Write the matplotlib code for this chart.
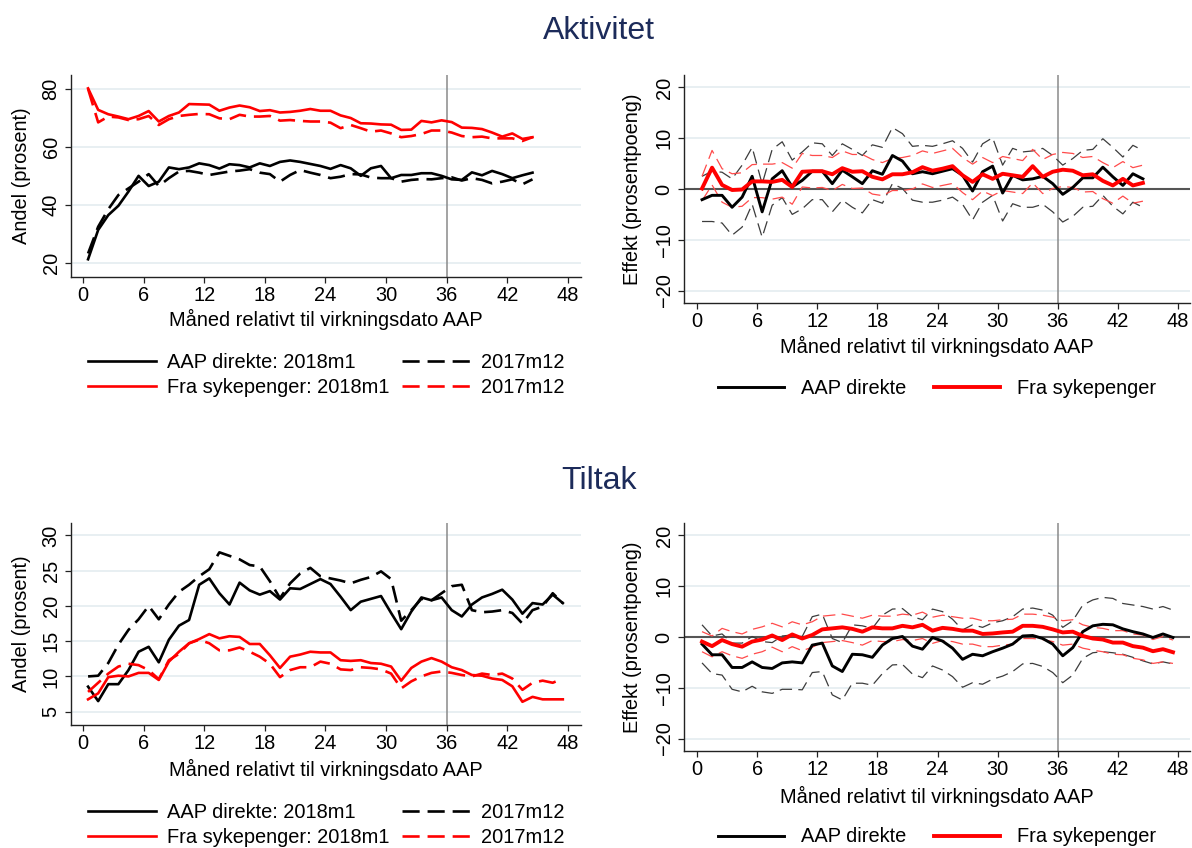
import numpy as np
import matplotlib
matplotlib.use("Agg")
import matplotlib.pyplot as plt
import matplotlib.transforms as mtransforms

plt.rcParams['font.family'] = ['Liberation Sans', 'DejaVu Sans']
plt.rcParams['lines.scale_dashes'] = True

# ---------------- data ----------------
months_a = np.arange(0.5, 45, 1.0)   # Aktivitet: months 1..45
months_t = np.arange(0.5, 48, 1.0)   # Tiltak: months 1..48

# Aktivitet, andel (prosent)
akt_aap_2018 = [21.4, 31.5, 36.6, 39.8, 44.7, 50.1, 46.6, 48.1, 53.0, 52.4,
                53.0, 54.4, 53.8, 52.6, 54.1, 53.8, 53.0, 54.4, 53.5, 54.9,
                55.4, 54.9, 54.2, 53.5, 52.5, 53.8, 52.7, 50.1, 52.7, 53.5,
                49.3, 50.4, 50.4, 51.0, 51.0, 50.1, 48.9, 48.7, 51.3, 50.3,
                51.8, 50.7, 49.3, 50.3, 51.2]
akt_aap_2017 = [23.4, 32.6, 38.6, 43.5, 45.8, 48.1, 50.7, 46.6, 49.3, 51.6,
                51.8, 51.2, 50.4, 51.0, 51.6, 51.9, 52.4, 51.2, 50.7, 48.1,
                50.4, 52.1, 51.2, 50.4, 49.3, 49.8, 50.7, 50.6, 49.5, 49.3,
                49.3, 48.1, 48.7, 49.0, 48.9, 49.3, 49.6, 48.5, 49.3, 48.7,
                47.5, 48.1, 48.9, 47.2, 48.9]
akt_syk_2018 = [80.2, 72.8, 71.3, 70.5, 69.6, 70.7, 72.4, 68.8, 70.7, 71.9,
                74.8, 74.7, 74.6, 72.5, 73.6, 74.3, 73.7, 72.4, 72.7, 71.9,
                72.1, 72.5, 73.1, 72.5, 72.5, 70.9, 70.0, 68.2, 68.1, 67.8,
                67.7, 65.9, 66.0, 69.0, 68.5, 69.2, 68.6, 66.7, 66.6, 66.2,
                65.0, 63.6, 64.7, 62.8, 63.4]
akt_syk_2017 = [80.0, 68.5, 70.5, 70.2, 69.3, 69.6, 70.7, 67.6, 69.6, 70.7,
                71.1, 71.4, 71.3, 69.9, 69.6, 71.1, 70.5, 70.5, 70.7, 69.1,
                69.3, 69.0, 68.8, 68.8, 68.4, 66.5, 67.6, 66.5, 65.3, 65.7,
                64.7, 63.4, 63.8, 64.5, 65.7, 65.7, 65.0, 63.8, 63.4, 63.6,
                63.0, 63.0, 63.0, 62.1, 63.4]

# Aktivitet, effekt (prosentpoeng) with confidence bounds
eff_akt_aap = [-2.1, -1.25, -1.25, -3.6, -1.6, 2.5, -4.5, 2.0, 3.6, 0.4,
               1.7, 3.5, 3.5, 1.05, 3.7, 2.4, 1.05, 3.6, 2.9, 6.6,
               5.5, 3.0, 3.4, 3.0, 3.5, 4.0, 2.7, -0.4, 3.4, 4.5,
               -0.8, 2.7, 1.8, 2.0, 2.5, 1.05, -1.05, 0.3, 2.2, 2.2,
               4.3, 2.4, 0.7, 3.0, 2.0]
eff_akt_aap_hi = [2.5, 3.5, 3.3, 2.0, 4.7, 8.2, 1.0, 7.8, 9.3, 5.7,
                  7.3, 9.1, 8.9, 6.6, 8.9, 7.8, 6.6, 8.7, 8.2, 12.1,
                  10.9, 8.4, 8.6, 8.4, 8.9, 9.5, 8.0, 5.3, 8.9, 10.1,
                  4.7, 8.0, 7.3, 7.5, 8.0, 6.6, 4.7, 6.0, 7.6, 7.8,
                  9.9, 8.2, 6.3, 8.6, 7.6]
eff_akt_aap_lo = [-6.4, -6.4, -6.7, -9.1, -7.5, -3.0, -9.5, -3.2, -1.7, -5.0,
                  -3.9, -2.1, -2.1, -4.5, -2.2, -3.6, -4.7, -2.1, -2.8, 1.05,
                  0.1, -2.2, -2.6, -2.6, -2.2, -1.6, -3.0, -6.1, -2.6, -1.25,
                  -6.3, -2.9, -3.6, -3.6, -3.0, -4.5, -6.5, -5.4, -3.6, -3.4,
                  -1.25, -3.4, -4.9, -2.6, -3.6]
eff_akt_syk = [0.1, 4.2, 0.8, -0.2, -0.1, 1.5, 1.5, 1.4, 1.8, 0.4,
               3.4, 3.5, 3.5, 2.9, 4.1, 3.4, 3.5, 2.4, 1.9, 2.9,
               2.9, 3.3, 4.3, 3.6, 4.0, 4.5, 2.7, 1.4, 2.9, 2.0,
               3.0, 2.7, 2.4, 4.5, 2.4, 3.4, 3.8, 3.6, 2.7, 2.9,
               1.6, 0.7, 2.0, 0.7, 1.2]
eff_akt_syk_hi = [2.5, 7.6, 4.0, 3.0, 3.2, 4.8, 4.9, 4.9, 5.2, 4.1,
                  7.0, 6.6, 6.6, 6.2, 7.5, 6.8, 6.8, 5.8, 5.2, 6.0,
                  6.2, 6.6, 7.5, 7.0, 7.5, 8.0, 6.2, 4.9, 6.2, 5.2,
                  6.4, 6.0, 5.6, 7.8, 5.8, 6.8, 7.2, 7.0, 6.2, 6.4,
                  5.2, 4.2, 5.4, 4.2, 4.7]
eff_akt_syk_lo = [-2.3, 0.8, -2.6, -3.6, -3.4, -1.7, -1.7, -2.0, -1.6, -3.0,
                  0.4, 0.2, 0.3, -0.3, 0.9, 0.1, 0.2, -1.0, -1.3, -0.3,
                  -0.3, 0.0, 1.0, 0.3, 0.7, 1.1, -0.7, -2.1, -0.4, -1.3,
                  -0.3, -0.6, -0.9, 1.2, -0.9, 0.1, 0.5, 0.3, -0.6, -0.5,
                  -1.9, -2.8, -1.4, -2.8, -2.4]

# Tiltak, andel (prosent)
tilt_aap_2018 = [8.55, 6.5, 8.9, 8.9, 10.9, 13.5, 14.2, 12.0, 15.2, 17.2,
                 18.0, 23.0, 23.9, 21.8, 20.2, 23.3, 22.2, 21.6, 22.1, 20.9,
                 22.5, 22.4, 23.1, 23.8, 23.1, 21.3, 19.4, 20.6, 21.0, 21.4,
                 19.0, 16.7, 19.2, 21.2, 20.8, 21.2, 19.4, 18.5, 20.2, 21.2,
                 21.7, 22.3, 20.9, 18.9, 20.4, 20.2, 21.6, 20.4]
tilt_aap_2017 = [10.0, 10.1, 11.9, 14.5, 16.6, 18.1, 20.0, 18.1, 20.2, 22.0,
                 23.0, 24.2, 25.2, 27.6, 27.1, 26.6, 25.8, 25.6, 23.5, 21.1,
                 23.2, 24.6, 25.4, 24.2, 23.9, 23.6, 23.2, 23.7, 24.1, 24.9,
                 23.8, 17.9, 19.4, 21.0, 20.8, 21.8, 22.8, 23.0, 19.4, 19.1,
                 19.2, 19.4, 19.0, 17.5, 19.4, 19.9, 21.8, 20.4]
tilt_syk_2018 = [6.75, 7.6, 9.9, 10.1, 10.0, 10.5, 10.5, 9.5, 12.1, 13.5,
                 14.7, 15.3, 16.0, 15.4, 15.7, 15.6, 14.6, 14.6, 13.0, 11.2,
                 12.8, 13.1, 13.5, 13.4, 13.4, 12.3, 12.2, 12.3, 11.9, 11.8,
                 11.4, 9.4, 11.2, 12.1, 12.6, 12.1, 11.3, 10.9, 10.2, 10.1,
                 9.7, 9.5, 8.6, 6.4, 7.1, 6.75, 6.75, 6.75]
tilt_syk_2017 = [7.8, 9.1, 10.4, 11.4, 11.8, 11.6, 10.9, 9.6, 12.3, 13.2,
                 14.7, 15.2, 14.7, 13.7, 13.7, 14.1, 13.5, 12.8, 11.8, 9.9,
                 10.9, 11.3, 11.3, 12.1, 11.8, 11.0, 10.9, 11.3, 11.2, 11.0,
                 10.4, 8.3, 9.3, 10.0, 10.5, 10.7, 10.5, 10.2, 10.0, 10.4,
                 10.2, 10.4, 9.7, 8.1, 9.1, 9.4, 9.1, 9.7]

# Tiltak, effekt (prosentpoeng) with confidence bounds
eff_tilt_aap = [-1.4, -3.5, -3.5, -6.0, -6.0, -4.9, -6.0, -6.2, -5.1, -4.9,
                -5.1, -1.6, -1.2, -5.7, -6.8, -3.4, -3.5, -4.0, -1.6, -0.3,
                0.1, -1.8, -2.4, -0.1, -0.8, -2.2, -4.4, -3.4, -3.7, -2.9,
                -2.2, -1.4, 0.2, 0.3, -0.3, -1.4, -3.7, -2.1, 1.05, 2.2,
                2.5, 2.4, 1.6, 1.05, 0.6, -0.1, 0.6, -0.1]
eff_tilt_aap_hi = [2.4, 0.2, 0.6, -1.2, -1.2, 0.1, -0.9, -1.1, 0.2, 0.4,
                   0.1, 4.0, 4.5, -0.3, -1.1, 2.4, 2.2, 1.7, 4.3, 5.5,
                   5.6, 4.0, 3.4, 5.5, 5.0, 3.5, 1.4, 2.4, 1.9, 2.8,
                   3.2, 4.0, 5.5, 5.7, 5.3, 4.3, 1.9, 3.2, 6.3, 7.3,
                   7.8, 7.6, 6.6, 6.3, 6.0, 5.5, 6.0, 5.3]
eff_tilt_aap_lo = [-5.1, -7.2, -7.5, -10.3, -10.8, -9.7, -10.8, -11.1, -10.3, -10.3,
                   -10.4, -7.0, -6.8, -11.4, -12.4, -9.1, -9.1, -9.5, -7.2, -5.5,
                   -5.4, -7.3, -8.0, -5.7, -6.5, -7.8, -9.9, -9.0, -9.3, -8.3,
                   -7.7, -6.8, -5.3, -5.2, -5.8, -7.0, -9.0, -7.5, -4.2, -3.1,
                   -2.9, -3.1, -3.4, -4.0, -4.7, -5.3, -4.9, -5.3]
eff_tilt_syk = [-0.9, -1.8, -0.6, -1.4, -1.9, -0.9, -0.5, 0.3, -0.6, 0.5,
                -0.3, 0.4, 1.5, 1.7, 1.9, 1.6, 1.05, 1.9, 1.7, 1.7,
                2.2, 1.9, 2.4, 1.25, 1.8, 1.6, 1.25, 1.25, 0.6, 0.7,
                0.9, 1.05, 2.2, 2.2, 2.0, 1.5, 0.9, 1.05, 0.2, -0.3,
                -0.5, -1.1, -1.1, -1.8, -2.1, -2.8, -2.4, -3.0]
eff_tilt_syk_hi = [1.05, 0.2, 1.7, 1.05, 0.6, 1.5, 2.0, 2.7, 2.0, 3.0,
                   2.4, 3.0, 4.1, 4.3, 4.5, 4.1, 3.7, 4.3, 4.1, 4.1,
                   4.5, 4.3, 4.9, 3.9, 4.3, 4.0, 3.7, 3.7, 3.2, 3.2,
                   3.4, 3.5, 4.5, 4.5, 4.3, 3.9, 3.2, 3.4, 2.4, 1.9,
                   1.7, 1.25, 1.25, 0.6, 0.4, -0.5, 0.1, -0.6]
eff_tilt_syk_lo = [-2.9, -3.9, -2.9, -3.7, -4.2, -3.4, -2.9, -2.0, -2.9, -1.9,
                   -2.7, -2.0, -1.1, -0.9, -0.7, -1.1, -1.6, -0.7, -0.9, -0.9,
                   -0.5, -0.7, -0.3, -1.25, -0.7, -0.9, -1.4, -1.4, -1.9, -1.9,
                   -1.6, -1.4, -0.3, -0.3, -0.5, -0.9, -1.6, -1.4, -2.2, -2.6,
                   -2.9, -3.4, -3.5, -4.2, -4.5, -5.2, -4.9, -5.2]

xticks = list(range(0, 49, 6))
xlabel = "Måned relativt til virkningsdato AAP"
lab_aap_2018 = "AAP direkte: 2018m1"
lab_syk_2018 = "Fra sykepenger: 2018m1"
lab_2017 = "2017m12"
lab_aap = "AAP direkte"
lab_syk = "Fra sykepenger"

# ---------------- layout ----------------
W, H = 1192, 848
fig = plt.figure(figsize=(W / 100, H / 100), dpi=100)
fig.patch.set_facecolor('white')
PX = mtransforms.Affine2D().scale(1, -1).translate(0, H)  # pixels, origin top-left

FS = 14.4
TITLE_C = '#1c2b5a'
GRID_C = '#e6eef1'
RED = '#ff0000'


def add_axes_px(x0, y0, x1, y1):
    return fig.add_axes([x0 / W, 1 - y1 / H, (x1 - x0) / W, (y1 - y0) / H])


def style(ax, xlim, ylim, yticks, ylabel, ylab_xy, xlab_xy):
    ax.set_xlim(*xlim)
    ax.set_ylim(*ylim)
    ax.set_xticks(xticks)
    ax.set_yticks(yticks)
    for s in ('top', 'right'):
        ax.spines[s].set_visible(False)
    for s in ('left', 'bottom'):
        ax.spines[s].set_linewidth(1.0)
        ax.spines[s].set_color('#222222')
    ax.grid(axis='y', color=GRID_C, lw=1.3)
    ax.grid(axis='x', visible=False)
    ax.set_axisbelow(True)
    ax.tick_params(direction='out', length=4.5, width=0.9, color='#222222',
                   labelsize=FS)
    ax.tick_params(axis='x', pad=2.2)
    ax.tick_params(axis='y', pad=3, labelrotation=90)
    for t in ax.get_yticklabels():
        t.set_verticalalignment('center')
    ax.set_ylabel(ylabel, fontsize=FS, va='center')
    ax.yaxis.set_label_coords(*ylab_xy, transform=PX)
    ax.set_xlabel(xlabel, fontsize=FS, va='center')
    ax.xaxis.set_label_coords(*xlab_xy, transform=PX)


def share_panel(ax, m, aap18, aap17, syk18, syk17, leg_xy):
    ax.axvline(36, color='#8a8a8a', lw=1.1, zorder=1.5)
    dash = (0, (6.5, 3))
    l1, = ax.plot(m, aap18, color='black', lw=1.9, label=lab_aap_2018, zorder=3)
    l2, = ax.plot(m, aap17, color='black', lw=1.9, ls=dash, label=lab_2017, zorder=3)
    l3, = ax.plot(m, syk18, color=RED, lw=1.9, label=lab_syk_2018, zorder=3)
    l4, = ax.plot(m, syk17, color=RED, lw=1.9, ls=dash, label=lab_2017, zorder=3)
    ax.legend(handles=[l1, l3, l2, l4], ncol=2, loc='center',
              bbox_to_anchor=leg_xy, bbox_transform=PX, frameon=False,
              fontsize=FS, handlelength=3.4, handletextpad=0.55,
              columnspacing=0.6, labelspacing=0.33, borderpad=0,
              borderaxespad=0)


def effect_panel(ax, m, aap, aap_lo, aap_hi, syk, syk_lo, syk_hi, leg_xy):
    ax.axvline(36, color='#8a8a8a', lw=1.1, zorder=1.5)
    ax.axhline(0, color='#555555', lw=1.5, zorder=1.6)
    ci = (0, (10, 5))
    ax.plot(m, aap_hi, color='#3c3c3c', lw=0.9, ls=ci, zorder=2)
    ax.plot(m, aap_lo, color='#3c3c3c', lw=0.9, ls=ci, zorder=2)
    ax.plot(m, syk_hi, color='#ff4a4a', lw=0.9, ls=ci, zorder=2.1)
    ax.plot(m, syk_lo, color='#ff4a4a', lw=0.9, ls=ci, zorder=2.1)
    l1, = ax.plot(m, aap, color='black', lw=2.1, label=lab_aap, zorder=3)
    l2, = ax.plot(m, syk, color=RED, lw=2.8, label=lab_syk, zorder=3.1)
    ax.legend(handles=[l1, l2], ncol=2, loc='center',
              bbox_to_anchor=leg_xy, bbox_transform=PX, frameon=False,
              fontsize=FS, handlelength=3.3, handletextpad=0.85,
              columnspacing=1.35, borderpad=0, borderaxespad=0)


# Aktivitet
fig.text(599, 39, "Aktivitet", transform=PX, ha='center', va='baseline',
         fontsize=23, color=TITLE_C)

ax1 = add_axes_px(71, 75, 581, 277)
share_panel(ax1, months_a, akt_aap_2018, akt_aap_2017, akt_syk_2018, akt_syk_2017,
            (326, 375))
style(ax1, (-1.19, 49.3), (15.3, 84.8), [20, 40, 60, 80], "Andel (prosent)",
      (22, 176), (326, 319))

ax2 = add_axes_px(684, 75, 1190, 303)
effect_panel(ax2, months_a, eff_akt_aap, eff_akt_aap_lo, eff_akt_aap_hi,
             eff_akt_syk, eff_akt_syk_lo, eff_akt_syk_hi, (937, 388))
style(ax2, (-1.3, 49.2), (-22.45, 22.45), [-20, -10, 0, 10, 20],
      "Effekt (prosentpoeng)", (633, 189), (937, 346))

# Tiltak
fig.text(599, 489, "Tiltak", transform=PX, ha='center', va='baseline',
         fontsize=23, color=TITLE_C)

ax3 = add_axes_px(71, 523, 581, 725)
share_panel(ax3, months_t, tilt_aap_2018, tilt_aap_2017, tilt_syk_2018, tilt_syk_2017,
            (326, 825))
style(ax3, (-1.19, 49.3), (3.11, 31.76), [5, 10, 15, 20, 25, 30], "Andel (prosent)",
      (22, 624), (326, 769))

ax4 = add_axes_px(684, 523, 1190, 751)
effect_panel(ax4, months_t, eff_tilt_aap, eff_tilt_aap_lo, eff_tilt_aap_hi,
             eff_tilt_syk, eff_tilt_syk_lo, eff_tilt_syk_hi, (937, 837))
style(ax4, (-1.3, 49.2), (-22.45, 22.45), [-20, -10, 0, 10, 20],
      "Effekt (prosentpoeng)", (633, 637), (937, 796))

fig.savefig("out.png", dpi=100, facecolor='white')
